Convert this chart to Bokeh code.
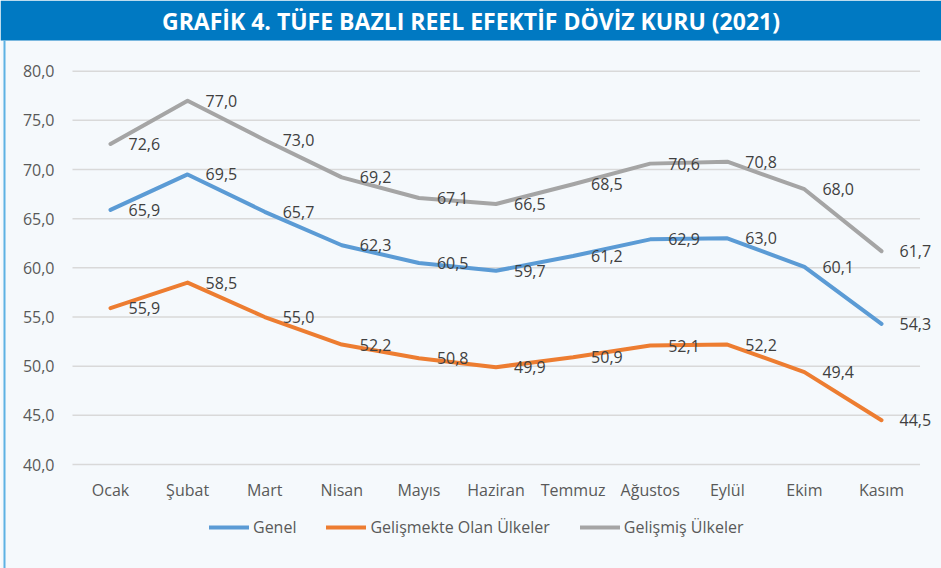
from bokeh.plotting import figure
from bokeh.models import (Range1d, FixedTicker, CustomJSTickFormatter, Legend, LegendItem,
                          ColumnDataSource, LinearAxis)
from bokeh.core.properties import value
from bokeh.embed import file_html
from bokeh.resources import INLINE

months = ["Ocak", "Şubat", "Mart", "Nisan", "Mayıs", "Haziran", "Temmuz", "Ağustos", "Eylül", "Ekim", "Kasım"]
genel = [65.9, 69.5, 65.7, 62.3, 60.5, 59.7, 61.2, 62.9, 63.0, 60.1, 54.3]
gelismekte = [55.9, 58.5, 55.0, 52.2, 50.8, 49.9, 50.9, 52.1, 52.2, 49.4, 44.5]
gelismis = [72.6, 77.0, 73.0, 69.2, 67.1, 66.5, 68.5, 70.6, 70.8, 68.0, 61.7]
series_names = ["Genel", "Gelişmekte Olan Ülkeler", "Gelişmiş Ülkeler"]
y_ticks = [40, 45, 50, 55, 60, 65, 70, 75, 80]
title_text = "GRAFİK 4. TÜFE BAZLI REEL EFEKTİF DÖVİZ KURU (2021)"

colors = ["#5B9BD5", "#ED7D31", "#A5A5A5"]
BG = "#F5F9FC"
BANNER = "#0079C2"
EDGE = "#5DB2E3"
FONT = "Open Sans"
FS = "16px"

W, H = 941, 568
xs = list(range(len(months)))

# canvas layout (pixels): plot area x 72..920, y-axis 80 at 70.7 px, 40 at 464 px, banner 0..40 px
PX_PER_X = 77.1
PX_PER_Y = 9.8325
X0_PX = 110.0
x_start = -X0_PX / PX_PER_X
x_end = (W - X0_PX) / PX_PER_X
y_end = y_ticks[-1] + 70.7 / PX_PER_Y
y_start = y_ticks[0] - (H - 464.0) / PX_PER_Y
banner_bottom = y_end - 40.0 / PX_PER_Y
area_left = xs[0] - 0.493
area_right = xs[-1] + 0.5

p = figure(width=W, height=H, x_range=Range1d(x_start, x_end), y_range=Range1d(y_start, y_end),
           output_backend="svg", toolbar_location=None, x_axis_location=None,
           min_border=0, background_fill_color=BG, border_fill_color=BG)
p.outline_line_color = None
p.grid.visible = False

# banner + title
p.quad(left=[x_start], right=[x_end], bottom=[banner_bottom], top=[y_end],
       fill_color=BANNER, line_color=None)
p.text(x=[(x_start + x_end) / 2], y=[(banner_bottom + y_end) / 2], text=[title_text],
       text_color="white", text_font=value(FONT), text_font_style="bold", text_font_size="23px",
       text_align="center", text_baseline="middle")
# left frame edge
p.segment(x0=[x_start + 4 / PX_PER_X], x1=[x_start + 4 / PX_PER_X], y0=[y_start], y1=[banner_bottom],
          line_color=EDGE, line_width=2)

# horizontal grid lines at the y ticks
p.segment(x0=[area_left] * len(y_ticks), x1=[area_right] * len(y_ticks), y0=y_ticks, y1=y_ticks,
          line_color="#D9D9D9", line_width=1.5)

yaxis = p.yaxis[0]
yaxis.ticker = FixedTicker(ticks=y_ticks)
yaxis.formatter = CustomJSTickFormatter(code="return tick.toFixed(1).replace('.', ',');")
yaxis.fixed_location = area_left

xaxis = LinearAxis(ticker=FixedTicker(ticks=xs),
                   major_label_overrides={i: m for i, m in zip(xs, months)},
                   fixed_location=y_ticks[0])
p.add_layout(xaxis, "below")

for ax in (xaxis, yaxis):
    ax.axis_line_color = None
    ax.major_tick_line_color = None
    ax.minor_tick_line_color = None
    ax.major_label_text_font = FONT
    ax.major_label_text_font_size = FS
    ax.major_label_text_color = "#595959"
yaxis.major_label_standoff = 12
xaxis.major_label_standoff = 8

renderers = []
all_series = [genel, gelismekte, gelismis]
for vals, c in zip(all_series, colors):
    r = p.line(x=xs, y=vals, line_color=c, line_width=4, line_cap="round", line_join="round")
    renderers.append(r)

for vals in all_series:
    src = ColumnDataSource(dict(x=xs, y=vals, t=[f"{v:.1f}".replace(".", ",") for v in vals]))
    p.text(x="x", y="y", text="t", source=src, x_offset=18, text_align="left",
           text_baseline="middle", text_font=value(FONT), text_font_size=FS,
           text_color="#404040")

legend = Legend(items=[LegendItem(label=n, renderers=[r]) for n, r in zip(series_names, renderers)],
                orientation="horizontal", location=(209, 30),
                glyph_width=40, glyph_height=20, label_standoff=4, spacing=30,
                label_text_font=FONT, label_text_font_size=FS, label_text_color="#595959",
                background_fill_alpha=0, border_line_color=None, padding=0, margin=0)
p.add_layout(legend)

open("out.html", "w").write(file_html(p, INLINE))
